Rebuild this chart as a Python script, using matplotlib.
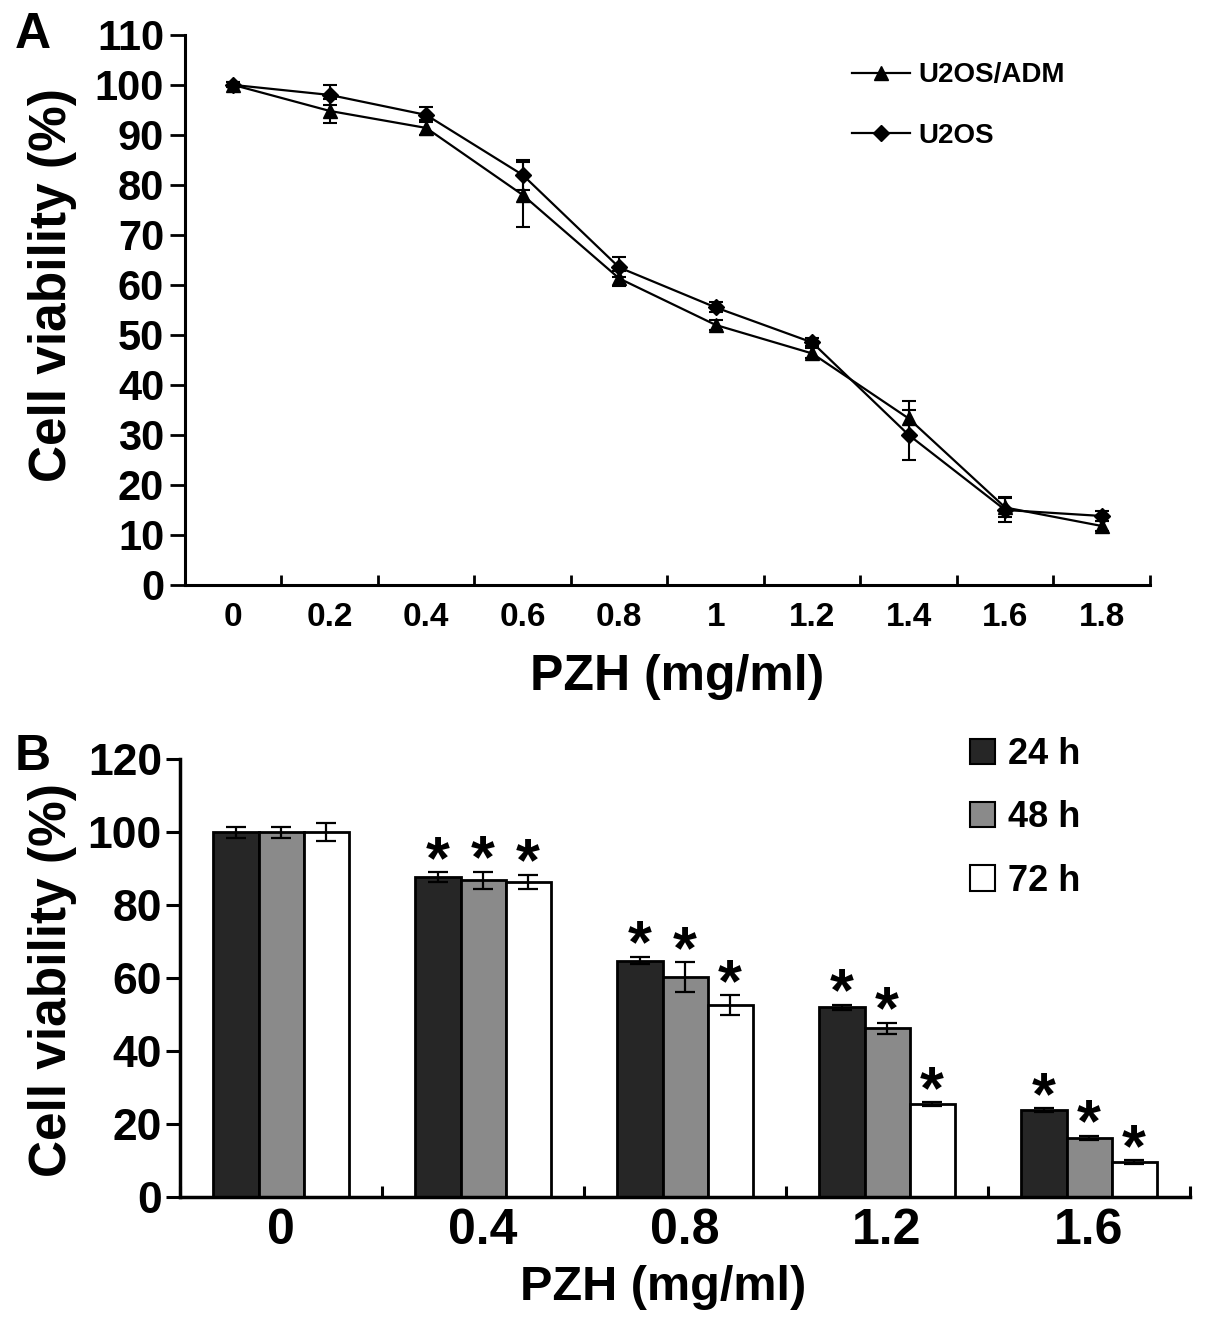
import numpy as np
import matplotlib
matplotlib.use('Agg')
import matplotlib.pyplot as plt
from matplotlib.patches import Patch

plt.rcParams['font.family'] = ['Liberation Sans', 'DejaVu Sans']
plt.rcParams['font.weight'] = 'bold'

# panel A data
doses_a = ['0', '0.2', '0.4', '0.6', '0.8', '1', '1.2', '1.4', '1.6', '1.8']
adm = [100, 94.8, 91.4, 78, 61.3, 52, 46.3, 33.3, 15.5, 11.8]
adm_err = [0.5, 2.4, 1.5, 6.5, 1.5, 1.0, 1.0, 3.5, 2.0, 1.0]
u2os = [100, 98, 94, 82, 63.5, 55.5, 48.5, 30, 15, 13.8]
u2os_err = [0.5, 2.0, 1.5, 3.0, 2.0, 1.0, 0.8, 5.0, 2.4, 1.0]

# panel B data
doses_b = ['0', '0.4', '0.8', '1.2', '1.6']
times = ['24 h', '48 h', '72 h']
v24 = [100, 87.7, 64.8, 52.0, 23.8]
v48 = [100, 86.8, 60.3, 46.3, 16.2]
v72 = [100, 86.3, 52.6, 25.5, 9.6]
e24 = [1.5, 1.3, 1.0, 0.7, 0.5]
e48 = [1.5, 2.3, 4.0, 1.5, 0.5]
e72 = [2.5, 2.0, 2.7, 0.5, 0.5]
stars = [False, True, True, True, True]
bar_colors = ['#262626', '#8a8a8a', '#ffffff']

fig = plt.figure(figsize=(12.05, 13.28), dpi=100)

# ---------------- panel A ----------------
axA = fig.add_axes([0.1535, 0.5595, 0.8008, 0.4142])
xa = np.arange(len(doses_a))
la, = axA.plot(xa, adm, color='black', lw=1.6, marker='^', ms=10, zorder=3)
axA.errorbar(xa, adm, yerr=adm_err, fmt='none', ecolor='black', elinewidth=1.5, capsize=5, capthick=1.5)
lu, = axA.plot(xa, u2os, color='black', lw=1.6, marker='D', ms=8, zorder=3)
axA.errorbar(xa, u2os, yerr=u2os_err, fmt='none', ecolor='black', elinewidth=1.5, capsize=5, capthick=1.5)

axA.set_xlim(-0.5, len(doses_a) - 0.5)
axA.set_ylim(0, 110)
axA.set_yticks(np.arange(0, 111, 10))
axA.set_xticks(np.arange(-0.5, len(doses_a), 1))
axA.set_xticklabels([])
axA.set_xticks(xa, minor=True)
axA.set_xticklabels(doses_a, minor=True)
axA.tick_params(axis='x', which='major', direction='in', length=7, width=2)
axA.tick_params(axis='x', which='minor', length=0, pad=12, labelsize=24)
axA.tick_params(axis='y', direction='out', length=11, width=2, pad=4, labelsize=30)
for s in ['top', 'right']:
    axA.spines[s].set_visible(False)
for s in ['left', 'bottom']:
    axA.spines[s].set_linewidth(2.2)
axA.set_ylabel('Cell viability (%)', fontsize=37, fontweight='bold')
axA.yaxis.set_label_coords(-0.112, 0.545)
axA.set_xlabel('PZH (mg/ml)', fontsize=36, fontweight='bold')
axA.xaxis.set_label_coords(0.51, -0.125)
axA.legend([la, lu], ['U2OS/ADM', 'U2OS'], loc='upper left', bbox_to_anchor=(0.691, 0.95),
           frameon=False, handlelength=2.1, handletextpad=0.3, labelspacing=1.25,
           borderpad=0, borderaxespad=0, prop={'weight': 'bold', 'size': 20})

# ---------------- panel B ----------------
axB = fig.add_axes([0.1494, 0.0986, 0.8382, 0.3298])
xb = np.arange(len(doses_b))
w = 0.223
vals = [v24, v48, v72]
errs = [e24, e48, e72]
for i in range(3):
    pos = xb + (i - 1) * w
    axB.bar(pos, vals[i], width=w, color=bar_colors[i], edgecolor='black', linewidth=2, zorder=2)
    axB.errorbar(pos, vals[i], yerr=errs[i], fmt='none', ecolor='black', elinewidth=1.6,
                 capsize=7, capthick=1.6, zorder=3)
    for j in range(len(doses_b)):
        if stars[j]:
            axB.annotate('*', (pos[j], vals[i][j] + errs[i][j]), xytext=(0, -4),
                         textcoords='offset points', ha='center', va='baseline',
                         fontsize=44, fontweight='bold')

axB.set_xlim(-0.5, len(doses_b) - 0.5)
axB.set_ylim(0, 120)
axB.set_yticks(np.arange(0, 121, 20))
axB.set_xticks(np.arange(-0.5, len(doses_b), 1))
axB.set_xticklabels([])
axB.set_xticks(xb, minor=True)
axB.set_xticklabels(doses_b, minor=True)
axB.tick_params(axis='x', which='major', direction='in', length=8, width=2.2)
axB.tick_params(axis='x', which='minor', length=0, pad=8, labelsize=36)
axB.tick_params(axis='y', direction='out', length=10, width=2.2, pad=3, labelsize=32)
for s in ['top', 'right']:
    axB.spines[s].set_visible(False)
for s in ['left', 'bottom']:
    axB.spines[s].set_linewidth(2.5)
axB.set_ylabel('Cell viability (%)', fontsize=37, fontweight='bold')
axB.yaxis.set_label_coords(-0.102, 0.495)
axB.set_xlabel('PZH (mg/ml)', fontsize=35, fontweight='bold')
axB.xaxis.set_label_coords(0.478, -0.155)
handles = [Patch(facecolor=c, edgecolor='black', linewidth=1.5) for c in bar_colors]
axB.legend(handles, times, loc='upper left', bbox_to_anchor=(0.782, 1.05), frameon=False,
           handlelength=0.7, handleheight=0.7, handletextpad=0.35, labelspacing=0.78,
           borderpad=0, borderaxespad=0, prop={'weight': 'bold', 'size': 26})

fig.text(0.012, 0.964, 'A', fontsize=36, fontweight='bold')
fig.text(0.012, 0.42, 'B', fontsize=36, fontweight='bold')

fig.savefig('out.png', dpi=100)
